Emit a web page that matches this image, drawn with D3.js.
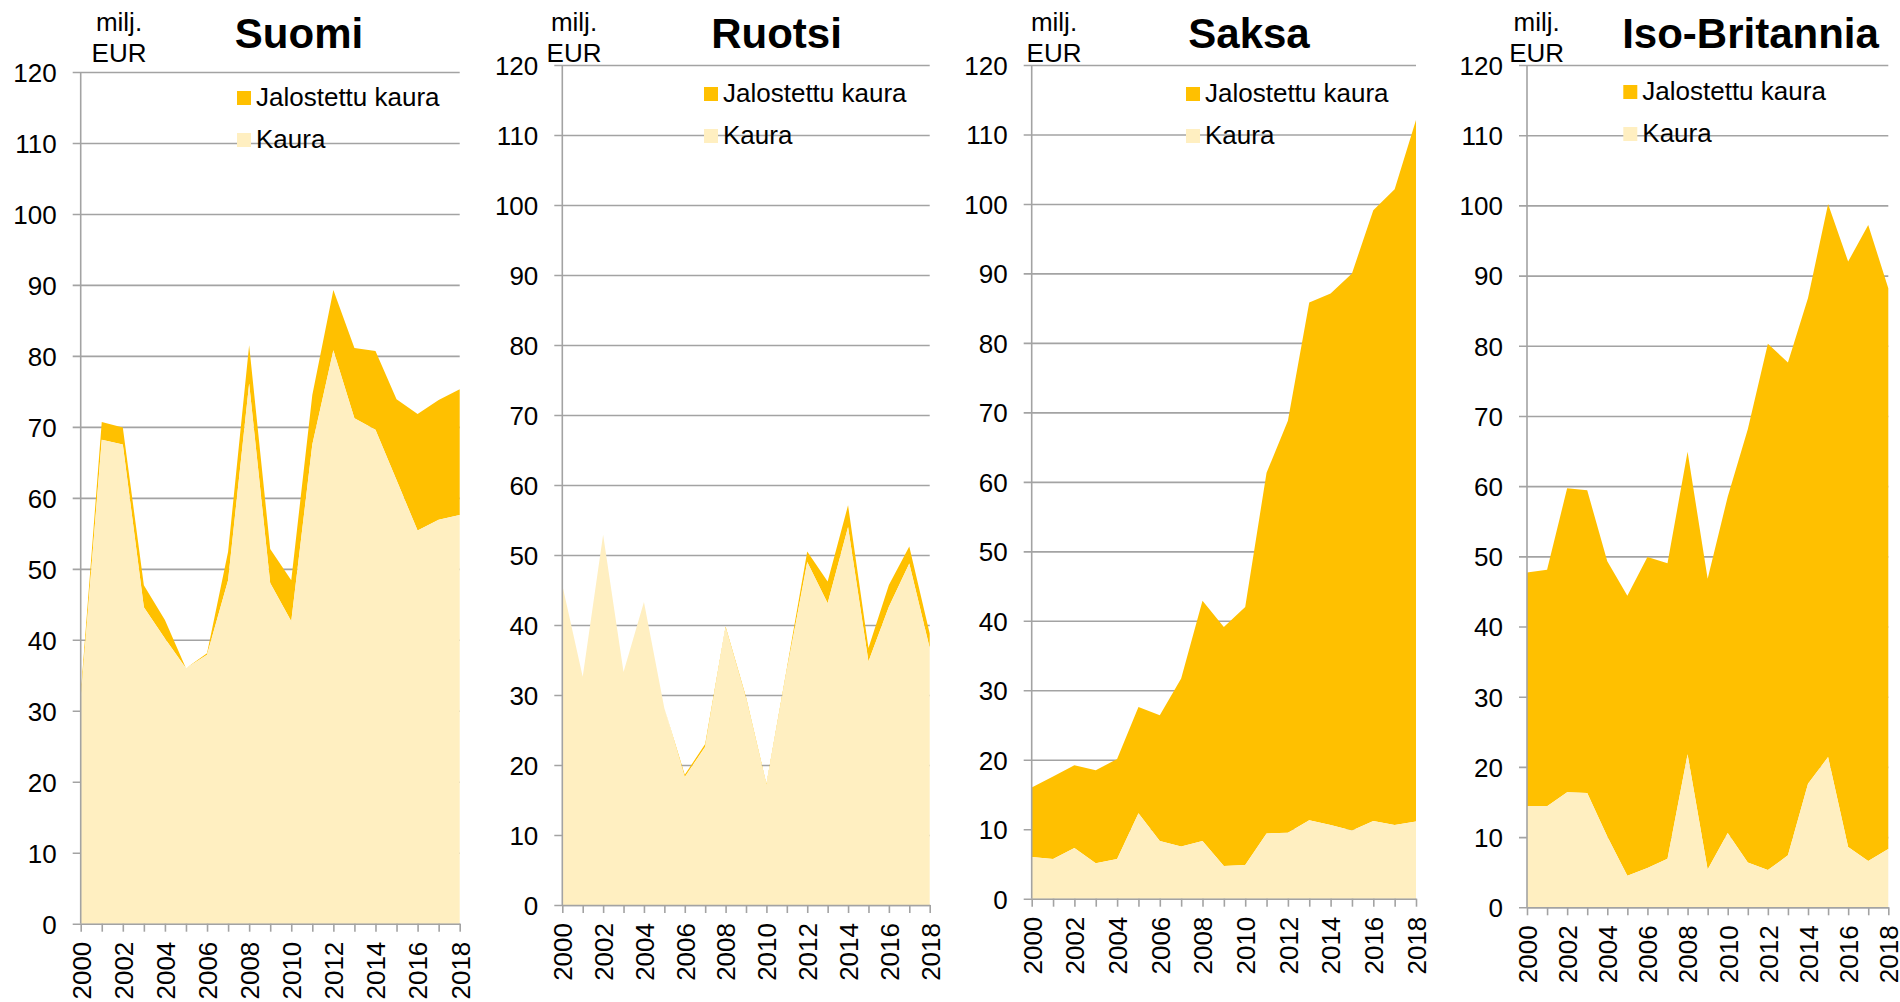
<!DOCTYPE html>
<html>
<head>
<meta charset="utf-8">
<script src="https://cdn.jsdelivr.net/npm/d3@7"></script>
<style>
  html, body { margin: 0; padding: 0; background: #fff; }
  svg { display: block; font-family: "Liberation Sans", Arial, sans-serif; }
</style>
</head>
<body>
<svg id="chart" width="1900" height="1002"></svg>
<script>
// ---- DATA ----
const years = [2000,2001,2002,2003,2004,2005,2006,2007,2008,2009,2010,2011,2012,2013,2014,2015,2016,2017,2018];
const yTicks = [0,10,20,30,40,50,60,70,80,90,100,110,120];
const xTickLabels = [2000,2002,2004,2006,2008,2010,2012,2014,2016,2018];
const seriesNames = ["Jalostettu kaura", "Kaura"];
const countries = ["Suomi", "Ruotsi", "Saksa", "Iso-Britannia"];
const unitLabel = ["milj.", "EUR"];

const suomiKaura       = [31.5,68.2,67.5,44.6,40.2,36.0,37.9,48.4,76.1,48.0,42.6,67.5,80.8,71.2,69.6,62.5,55.4,56.9,57.6];
const suomiJalostettu  = [0.8,2.5,2.4,3.1,2.6,0.0,0.2,4.0,5.4,4.8,5.8,7.0,8.5,9.9,11.1,11.4,16.4,16.9,17.7];
const ruotsiKaura      = [45.7,32.6,52.9,33.3,43.3,28.1,18.3,22.6,39.6,29.5,17.1,33.5,49.0,43.1,54.0,34.8,42.6,48.8,36.7];
const ruotsiJalostettu = [0,0,0,0,0,0,0.3,0.4,0.2,0.2,0.2,0.3,1.5,3.1,3.1,1.9,3.1,2.4,2.1];
const saksaKaura       = [6.0,5.7,7.3,5.1,5.7,12.3,8.3,7.5,8.3,4.7,4.85,9.4,9.5,11.3,10.6,9.8,11.2,10.6,11.1];
const saksaJalostettu  = [10.0,11.9,11.9,13.4,14.4,15.3,18.1,24.2,34.6,34.4,37.15,51.9,59.3,74.5,76.5,80.2,87.9,91.5,101.0];
const ibKaura          = [14.4,14.4,16.4,16.3,10.1,4.5,5.6,6.9,21.8,5.4,10.6,6.4,5.3,7.4,17.6,21.4,8.6,6.6,8.3];
const ibJalostettu     = [33.3,33.7,43.3,43.1,39.2,39.9,44.3,42.1,43.1,41.4,47.9,61.7,75.0,70.2,69.2,78.8,83.4,90.6,79.9];

const kauraByCountry = [suomiKaura, ruotsiKaura, saksaKaura, ibKaura];
const jalByCountry = [suomiJalostettu, ruotsiJalostettu, saksaJalostettu, ibJalostettu];

// ---- STYLE / LAYOUT ----
const colJal = "#FFC000";
const colKaura = "#FFEFC1";
const gridCol = "#A3A3A3";

const layout = [
  {x0: 80.7,  x1: 459.7,  yT: 72, yB: 923.7, title: 299,   unit: 119,   legX: 237,   legY: 91},
  {x0: 562.3, x1: 929.7,  yT: 65, yB: 905,   title: 776.5, unit: 574,   legX: 704,   legY: 87},
  {x0: 1031.7,x1: 1416,   yT: 65, yB: 898.7, title: 1249,  unit: 1054,  legX: 1186,  legY: 87},
  {x0: 1527,  x1: 1888.3, yT: 65, yB: 907.3, title: 1750.5,unit: 1536.7,legX: 1623.3,legY: 85}
];

const svg = d3.select("#chart");

countries.forEach((name, i) => {
  const L = layout[i];
  const g = svg.append("g");
  const x = d3.scaleLinear().domain([years[0], years[years.length-1]]).range([L.x0, L.x1]);
  const y = d3.scaleLinear().domain([0, 120]).range([L.yB, L.yT]);

  // gridlines + y axis ticks
  const yAxis = d3.axisLeft(y).tickValues(yTicks).tickSize(-(L.x1 - L.x0)).tickPadding(0).tickFormat(d3.format("d"));
  const ga = g.append("g").attr("transform", `translate(${L.x0},0)`).call(yAxis);
  ga.select(".domain").remove();
  ga.selectAll(".tick line").attr("x1", -8).attr("stroke", gridCol).attr("stroke-width", 1.6);
  ga.selectAll(".tick text").attr("x", -24).attr("dy", "0.36em")
    .style("font-size", "26px").style("font-family", '"Liberation Sans", Arial, sans-serif').attr("fill", "#000");

  // stacked areas
  const rows = years.map((yr, j) => ({year: yr, Kaura: kauraByCountry[i][j], Jal: jalByCountry[i][j]}));
  const stack = d3.stack().keys(["Kaura", "Jal"])(rows);
  const area = d3.area().x(d => x(d.data.year)).y0(d => y(d[0])).y1(d => y(d[1]));
  g.append("path").datum(stack[1]).attr("d", area).attr("fill", colJal);
  g.append("path").datum(stack[0]).attr("d", area).attr("fill", colKaura);

  // y axis line
  g.append("line").attr("x1", L.x0).attr("x2", L.x0).attr("y1", L.yT).attr("y2", L.yB)
    .attr("stroke", gridCol).attr("stroke-width", 1.6);

  // x axis
  const xAxis = d3.axisBottom(x).tickValues(years).tickSize(8).tickSizeOuter(0)
    .tickFormat(d => xTickLabels.includes(d) ? String(d) : "");
  const gx = g.append("g").attr("transform", `translate(0,${L.yB})`).call(xAxis);
  gx.select(".domain").attr("stroke", gridCol).attr("stroke-width", 1.6);
  gx.selectAll(".tick line").attr("stroke", gridCol).attr("stroke-width", 1.6);
  gx.selectAll(".tick text")
    .attr("transform", "rotate(-90)")
    .attr("x", -18).attr("y", 0).attr("dy", "0.36em")
    .attr("text-anchor", "end")
    .style("font-size", "26px").style("font-family", '"Liberation Sans", Arial, sans-serif').attr("fill", "#000");

  // title
  g.append("text").attr("x", L.title).attr("y", 48).attr("text-anchor", "middle")
    .style("font-size", "42px").style("font-weight", "bold").attr("fill", "#000").text(name);

  // unit
  g.append("text").attr("x", L.unit).attr("y", 31).attr("text-anchor", "middle")
    .style("font-size", "26px").attr("fill", "#000").text(unitLabel[0]);
  g.append("text").attr("x", L.unit).attr("y", 62).attr("text-anchor", "middle")
    .style("font-size", "26px").attr("fill", "#000").text(unitLabel[1]);

  // legend
  const legCols = [colJal, colKaura];
  seriesNames.forEach((s, k) => {
    const ly = L.legY + k * 42;
    g.append("rect").attr("x", L.legX).attr("y", ly).attr("width", 14).attr("height", 14).attr("fill", legCols[k]);
    g.append("text").attr("x", L.legX + 19).attr("y", ly + 14.5)
      .style("font-size", "26px").attr("fill", "#000").text(s);
  });
});
</script>
</body>
</html>
